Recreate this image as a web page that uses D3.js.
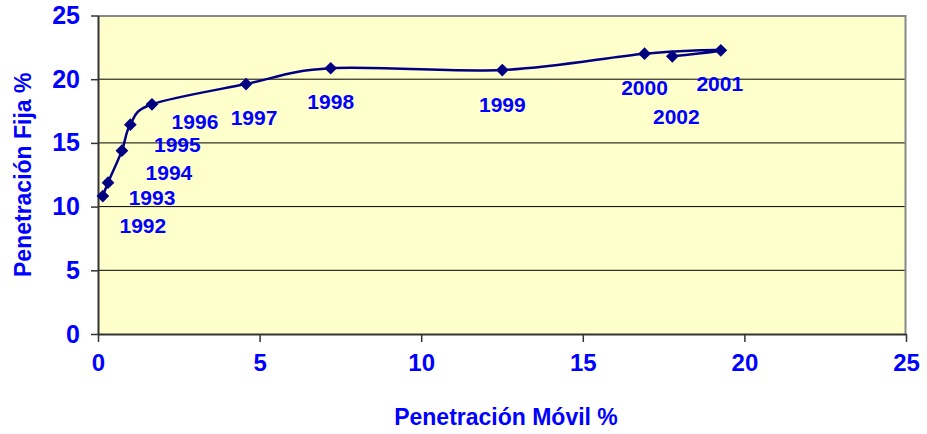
<!DOCTYPE html>
<html>
<head>
<meta charset="utf-8">
<script src="https://cdn.jsdelivr.net/npm/d3@7"></script>
<style>
  body { margin: 0; background: #fff; }
  text { font-family: "Liberation Sans", Arial, sans-serif; font-weight: bold; fill: #0000ff; }
</style>
</head>
<body>
<div id="chart"></div>
<script>
// data
const years = ["1992", "1993", "1994", "1995", "1996", "1997", "1998", "1999", "2000", "2001", "2002"];
const movil = [0.15, 0.31, 0.74, 1.00, 1.67, 4.58, 7.20, 12.51, 16.91, 19.27, 17.77];
const fija = [10.83, 11.88, 14.39, 16.43, 18.03, 19.62, 20.86, 20.72, 22.00, 22.27, 21.80];
const xTicks = [0, 5, 10, 15, 20, 25];
const yTicks = [0, 5, 10, 15, 20, 25];

// label placement relative to each point (pixels)
const labelShift = [[40, 37], [44, 22], [47, 29], [47, 27], [43, 25], [8, 41], [0, 41], [0, 42], [0, 41], [-1, 41], [4, 68]];

let margin = { top: 15.5, right: 21, bottom: 100, left: 98 },
    width = 927 - margin.left - margin.right,
    height = 434 - margin.top - margin.bottom;

let svg = d3.select("#chart")
    .append("svg")
    .attr("width", 927)
    .attr("height", 434)
    .append("g")
    .attr("transform", "translate(" + margin.left + "," + margin.top + ")");

let x = d3.scaleLinear().domain([0, 25]).range([0, width]);
let y = d3.scaleLinear().domain([0, 25]).range([height, 0]);

// plot background
svg.append("rect")
    .attr("width", width)
    .attr("height", height)
    .attr("fill", "#ffffcc");

// grid lines
svg.append("g")
    .selectAll("line")
    .data(yTicks.filter(d => d > 0 && d < 25))
    .enter()
    .append("line")
    .attr("x1", 0)
    .attr("x2", width)
    .attr("y1", d => y(d))
    .attr("y2", d => y(d))
    .attr("stroke", "#000")
    .attr("stroke-width", 1);

// gray frame top and right
svg.append("path")
    .attr("d", `M0,0.5H${width - 0.5}V${height}`)
    .attr("fill", "none")
    .attr("stroke", "#888")
    .attr("stroke-width", 2);

// axes
let xAxis = svg.append("g")
    .attr("transform", "translate(0," + height + ")")
    .call(d3.axisBottom(x).tickValues(xTicks).tickSize(8).tickPadding(12).tickSizeOuter(0));
let yAxis = svg.append("g")
    .call(d3.axisLeft(y).tickValues(yTicks).tickSize(7).tickPadding(11).tickSizeOuter(0));

[xAxis, yAxis].forEach(a => {
    a.select(".domain").attr("stroke", "#333").attr("stroke-width", 2);
    a.selectAll(".tick line").attr("stroke", "#333").attr("stroke-width", 1.5);
    a.selectAll("text")
        .attr("fill", "#0000ff")
        .style("font-family", "'Liberation Sans', Arial, sans-serif")
        .style("font-weight", "bold");
});
xAxis.selectAll("text").style("font-size", "24px").attr("dy", "0.71em");
yAxis.selectAll("text").style("font-size", "25px");

// the smoothed line
let points = years.map((yr, i) => ({ year: yr, mx: movil[i], fy: fija[i], shift: labelShift[i] }));

let line = d3.line()
    .x(d => x(d.mx))
    .y(d => y(d.fy))
    .curve(d3.curveCatmullRom.alpha(0));

svg.append("path")
    .datum(points)
    .attr("d", line)
    .attr("fill", "none")
    .attr("stroke", "#000080")
    .attr("stroke-width", 2.5);

// diamond markers
svg.selectAll(".marker")
    .data(points)
    .enter()
    .append("path")
    .attr("class", "marker")
    .attr("d", d3.symbol(d3.symbolSquare, 81))
    .attr("transform", d => `translate(${x(d.mx)},${y(d.fy)}) rotate(45)`)
    .attr("fill", "#000080");

// year labels
svg.selectAll(".yearLabel")
    .data(points)
    .enter()
    .append("text")
    .attr("class", "yearLabel")
    .attr("x", d => x(d.mx) + d.shift[0])
    .attr("y", d => y(d.fy) + d.shift[1])
    .attr("text-anchor", "middle")
    .style("font-size", "21px")
    .text(d => d.year);

// axis titles
svg.append("text")
    .attr("x", width / 2 + 4)
    .attr("y", 409.5)
    .attr("text-anchor", "middle")
    .style("font-size", "23px")
    .text("Penetración Móvil %");

svg.append("text")
    .attr("transform", `translate(${31 - margin.left},${height / 2}) rotate(-90)`)
    .attr("text-anchor", "middle")
    .style("font-size", "23px")
    .text("Penetración Fija %");
</script>
</body>
</html>
